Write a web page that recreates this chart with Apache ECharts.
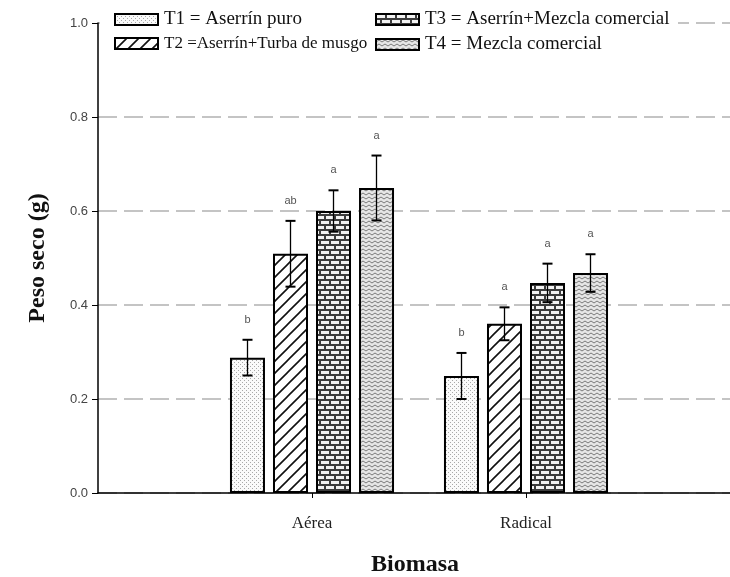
<!DOCTYPE html>
<html>
<head>
<meta charset="utf-8">
<script src="https://cdn.jsdelivr.net/npm/echarts@6/dist/echarts.min.js"></script>
<style>html,body{margin:0;padding:0;background:#fff;}#chart{width:730px;height:577px;}</style>
</head>
<body>
<div id="chart"></div>
<script>
// ---- data ----
const categories = ['Aérea', 'Radical'];
const treatments = ['T1 = Aserrín puro', 'T2 =Aserrín+Turba de musgo', 'T3 = Aserrín+Mezcla comercial', 'T4 = Mezcla comercial'];
const t1Values = [0.288, 0.249];
const t2Values = [0.509, 0.360];
const t3Values = [0.600, 0.447];
const t4Values = [0.649, 0.468];
const t1Errors = [0.038, 0.049];
const t2Errors = [0.070, 0.035];
const t3Errors = [0.044, 0.041];
const t4Errors = [0.069, 0.040];
const t1Letters = ['b', 'b'];
const t2Letters = ['ab', 'a'];
const t3Letters = ['a', 'a'];
const t4Letters = ['a', 'a'];
const yTicks = ['0.0', '0.2', '0.4', '0.6', '0.8', '1.0'];

// ---- patterns ----
function makeTile(w, h, draw) {
  const c = document.createElement('canvas');
  c.width = w; c.height = h;
  const ctx = c.getContext('2d');
  draw(ctx, w, h);
  return { image: c, repeat: 'repeat' };
}
const patDots = makeTile(4, 4, (ctx) => {
  ctx.fillStyle = '#fafafa'; ctx.fillRect(0, 0, 4, 4);
  ctx.fillStyle = '#a8a8a8';
  ctx.fillRect(0, 0, 1, 1); ctx.fillRect(2, 2, 1, 1);
});
const patHatch = makeTile(12, 12, (ctx) => {
  ctx.fillStyle = '#ffffff'; ctx.fillRect(0, 0, 12, 12);
  ctx.strokeStyle = '#111'; ctx.lineWidth = 1.6;
  ctx.beginPath();
  ctx.moveTo(-1, 13); ctx.lineTo(13, -1);
  ctx.moveTo(-13, 13); ctx.lineTo(1, -1);
  ctx.moveTo(11, 13); ctx.lineTo(25, -1);
  ctx.stroke();
});
const patBrick = makeTile(10, 10, (ctx) => {
  ctx.fillStyle = '#3c3c3c'; ctx.fillRect(0, 0, 10, 10);
  ctx.fillStyle = '#f2f2f2';
  ctx.fillRect(1, 1, 8, 3);
  ctx.fillRect(0, 6, 4, 3);
  ctx.fillRect(6, 6, 4, 3);
});
const patZig = makeTile(6, 4, (ctx) => {
  ctx.fillStyle = '#e6e6e6'; ctx.fillRect(0, 0, 6, 4);
  ctx.strokeStyle = '#7a7a7a'; ctx.lineWidth = 1;
  ctx.beginPath();
  ctx.moveTo(0, 3); ctx.lineTo(3, 1); ctx.lineTo(6, 3);
  ctx.stroke();
});

const valueSets = [t1Values, t2Values, t3Values, t4Values];
const errorSets = [t1Errors, t2Errors, t3Errors, t4Errors];
const letterSets = [t1Letters, t2Letters, t3Letters, t4Letters];
const patterns = [patDots, patHatch, patBrick, patZig];

const BAR_W = 35, BAR_GAP = 8;
const xData = [''].concat(categories, ['']);

const barSeries = treatments.map((name, i) => ({
  name: name,
  type: 'bar',
  barWidth: BAR_W,
  barGap: (BAR_GAP / BAR_W * 100).toFixed(1) + '%',
  data: ['-'].concat(valueSets[i], ['-']),
  itemStyle: { color: patterns[i], borderColor: '#000', borderWidth: 2 },
  z: 3,
  silent: true
}));

const errSeries = treatments.map((name, i) => ({
  type: 'custom',
  z: 5,
  silent: true,
  data: categories.map((c, j) => [j + 1, valueSets[i][j], errorSets[i][j], j]),
  renderItem: function (params, api) {
    const x = api.value(0), m = api.value(1), e = api.value(2), j = api.value(3);
    const off = (i - 1.5) * (BAR_W + BAR_GAP);
    const top = api.coord([x, m + e]);
    const bot = api.coord([x, m - e]);
    const cx = top[0] + off;
    const cap = 5;
    return {
      type: 'group',
      children: [
        { type: 'line', shape: { x1: cx, y1: top[1], x2: cx, y2: bot[1] }, style: { stroke: '#000', lineWidth: 1.3 } },
        { type: 'line', shape: { x1: cx - cap, y1: top[1], x2: cx + cap, y2: top[1] }, style: { stroke: '#000', lineWidth: 2 } },
        { type: 'line', shape: { x1: cx - cap, y1: bot[1], x2: cx + cap, y2: bot[1] }, style: { stroke: '#000', lineWidth: 2 } },
        { type: 'text', style: { text: letterSets[i][j], x: cx, y: top[1] - 20, align: 'center', verticalAlign: 'middle', fill: '#555', font: '11px "Liberation Sans", Arial, sans-serif' } }
      ]
    };
  }
}));

const legendPos = [
  { left: 114, top: 10 },
  { left: 114, top: 35 },
  { left: 375, top: 10 },
  { left: 375, top: 35 }
];
const legendSizes = [19, 17, 19, 19];
const legends = treatments.map((name, i) => ({
  data: [name],
  left: legendPos[i].left,
  top: legendPos[i].top,
  padding: 0,
  itemWidth: 43,
  itemHeight: 11,
  itemGap: 0,
  icon: 'rect',
  selectedMode: false,
  textStyle: { fontFamily: '"Liberation Serif", "Times New Roman", serif', fontSize: legendSizes[i], color: '#111', padding: [0, 0, 0, 1] }
}));

const chart = echarts.init(document.getElementById('chart'), null, { renderer: 'canvas' });
chart.setOption({
  animation: false,
  backgroundColor: '#fff',
  grid: { left: 98, width: 642, top: 23, bottom: 84, containLabel: false, outerBoundsMode: 'none' },
  legend: legends,
  graphic: [{ type: 'rect', shape: { x: 100, y: 10, width: 578, height: 24 }, style: { fill: '#fff' }, z: 1 }],
  xAxis: {
    type: 'category',
    data: xData,
    boundaryGap: false,
    axisLine: { lineStyle: { color: '#000', width: 1.5 } },
    axisTick: { length: 5, interval: (idx) => idx === 1 || idx === 2, lineStyle: { color: '#000', width: 1 } },
    axisLabel: { interval: 0, margin: 22, fontFamily: '"Liberation Serif", "Times New Roman", serif', fontSize: 17, color: '#222' },
    splitLine: { show: false },
    name: 'Biomasa',
    nameLocation: 'middle',
    nameGap: 60,
    nameTextStyle: { fontFamily: '"Liberation Serif", "Times New Roman", serif', fontWeight: 'bold', fontSize: 24, color: '#111', padding: [0, 8, 0, 0] }
  },
  yAxis: {
    type: 'value',
    min: 0, max: 1, interval: 0.2,
    axisLine: { show: true, lineStyle: { color: '#000', width: 1.5 } },
    axisTick: { show: true, length: 6, lineStyle: { color: '#000', width: 1 } },
    axisLabel: { margin: 10, fontFamily: '"Liberation Sans", Arial, sans-serif', fontSize: 13, color: '#444', formatter: (v) => yTicks[Math.round(v / 0.2)] },
    splitLine: { show: true, lineStyle: { color: '#c4c4c4', width: 2, type: [19, 7] } },
    name: 'Peso seco (g)',
    nameLocation: 'middle',
    nameGap: 48,
    nameTextStyle: { fontFamily: '"Liberation Serif", "Times New Roman", serif', fontWeight: 'bold', fontSize: 24, color: '#111' }
  },
  series: barSeries.concat(errSeries)
});
</script>
</body>
</html>
